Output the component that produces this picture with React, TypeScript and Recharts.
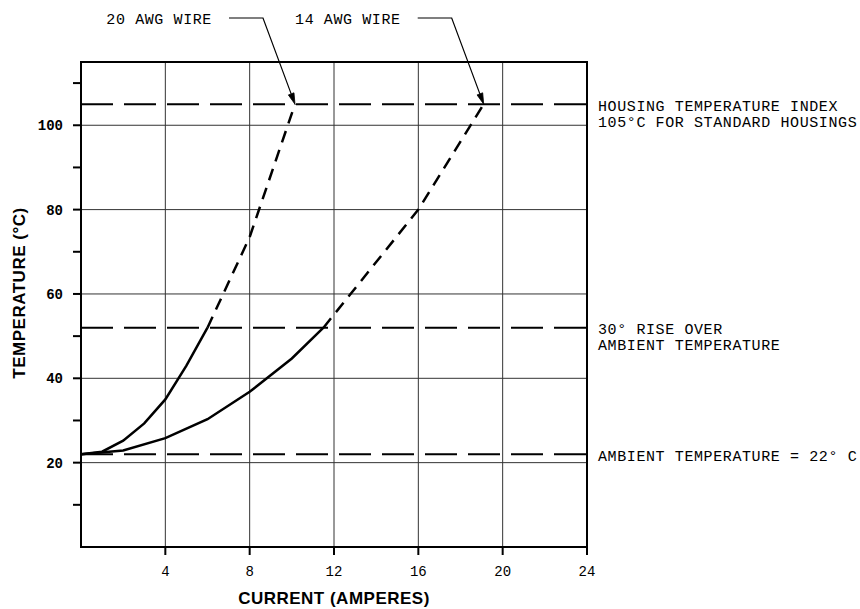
import React from 'react';
import {
  LineChart,
  Line,
  XAxis,
  YAxis,
  CartesianGrid,
  ReferenceLine,
  ReferenceArea,
  ReferenceDot,
} from 'recharts';

// ---- data ----
const xTicks = [4, 8, 12, 16, 20, 24];
const yTicks = [10, 20, 30, 40, 50, 60, 70, 80, 90, 100, 110];
const yLabelled = [20, 40, 60, 80, 100];
const gridX = [4, 8, 12, 16, 20];
const gridY = [20, 40, 60, 80, 100];

const awg20Solid = [
  { x: 0, y: 22 },
  { x: 1, y: 22.6 },
  { x: 2, y: 25.2 },
  { x: 3, y: 29.3 },
  { x: 4, y: 35 },
  { x: 5, y: 43 },
  { x: 6, y: 52 },
];
const awg20Dashed = [
  { x: 6, y: 52 },
  { x: 8, y: 73.5 },
  { x: 10.15, y: 105 },
];
const awg14Solid = [
  { x: 0, y: 22 },
  { x: 2, y: 22.9 },
  { x: 4, y: 25.8 },
  { x: 6, y: 30.3 },
  { x: 8, y: 36.8 },
  { x: 10, y: 44.7 },
  { x: 11.5, y: 52 },
];
const awg14Dashed = [
  { x: 11.5, y: 52 },
  { x: 16, y: 80 },
  { x: 19.1, y: 105 },
];

const limitValues = [105, 52, 22];
const limitTexts = [
  ['HOUSING TEMPERATURE INDEX', '105\u00B0C FOR STANDARD HOUSINGS'],
  ['30\u00B0 RISE OVER', 'AMBIENT TEMPERATURE'],
  ['AMBIENT TEMPERATURE = 22\u00B0 C'],
];

const wireNames = ['20 AWG WIRE', '14 AWG WIRE'];
const wireTips = [awg20Dashed[awg20Dashed.length - 1], awg14Dashed[awg14Dashed.length - 1]];

const X_DOMAIN = [0, 24];
const Y_DOMAIN = [0, 115];

const MONO = '"Liberation Mono", "DejaVu Sans Mono", monospace';
const SANS = '"Liberation Sans", Arial, sans-serif';

const YTick = (props: any) => {
  const { x, y, payload } = props;
  if (!yLabelled.includes(payload.value)) return <g />;
  return (
    <text
      x={x - 1}
      y={y}
      dy={5}
      textAnchor="end"
      fontFamily={MONO}
      fontWeight="bold"
      fontSize={14}
      fill="#000"
    >
      {payload.value}
    </text>
  );
};

const XTick = (props: any) => {
  const { x, y, payload } = props;
  return (
    <text x={x} y={y} dy={17} textAnchor="middle" fontFamily={MONO} fontSize={14} fill="#000">
      {payload.value}
    </text>
  );
};

const limitLabel = (lines: string[]) => (props: any) => {
  const vb = props.viewBox || {};
  const right = (vb.x || 0) + (vb.width || 0);
  const y = vb.y || 0;
  return (
    <g>
      {lines.map((t, i) => (
        <text
          key={i}
          x={right + 11}
          y={y + 6.5 + i * 16}
          fontFamily={MONO}
          fontSize={15}
          letterSpacing={0.6}
          fill="#000"
        >
          {t}
        </text>
      ))}
    </g>
  );
};

const leaderShape = (name: string) => (props: any) => {
  const { cx, cy } = props;
  const topY = 18;
  const corner = { x: cx - 32, y: topY };
  const start = { x: cx - 66, y: topY };
  const dx = cx - corner.x;
  const dy = cy - corner.y;
  const len = Math.sqrt(dx * dx + dy * dy);
  const ux = dx / len;
  const uy = dy / len;
  const ah = 11;
  const aw = 3;
  const bx = cx - ux * ah;
  const by = cy - uy * ah;
  const p1 = `${cx},${cy}`;
  const p2 = `${bx - uy * aw},${by + ux * aw}`;
  const p3 = `${bx + uy * aw},${by - ux * aw}`;
  return (
    <g>
      <polyline
        points={`${start.x},${start.y} ${corner.x},${corner.y} ${bx},${by}`}
        fill="none"
        stroke="#000"
        strokeWidth={1.2}
      />
      <polygon points={`${p1} ${p2} ${p3}`} fill="#000" stroke="#000" strokeWidth={0.8} />
      <text
        x={start.x - 17}
        y={topY + 6}
        textAnchor="end"
        fontFamily={MONO}
        fontSize={15}
        letterSpacing={0.6}
        fill="#000"
      >
        {name}
      </text>
    </g>
  );
};

const XTitle = (props: any) => {
  const vb = props.viewBox || {};
  return (
    <text
      x={vb.x + vb.width / 2}
      y={vb.y + 57}
      textAnchor="middle"
      fontFamily={SANS}
      fontWeight="bold"
      fontSize={17}
      letterSpacing={0.5}
      fill="#000"
    >
      CURRENT (AMPERES)
    </text>
  );
};

const YTitle = () => (
  <text
    x={0}
    y={0}
    transform="translate(25,293) rotate(-90)"
    textAnchor="middle"
    fontFamily={SANS}
    fontWeight="bold"
    fontSize={17}
    letterSpacing={0.5}
    fill="#000"
  >
    TEMPERATURE (°C)
  </text>
);

export default function App() {
  return (
    <div style={{ position: 'absolute', left: 0, top: 0, background: '#fff' }}>
      <LineChart
        width={860}
        height={609}
        margin={{ top: 62, right: 273, bottom: 22, left: 0 }}
      >
        <CartesianGrid
          horizontalValues={gridY}
          verticalValues={gridX}
          stroke="#333"
          strokeWidth={1}
        />
        <XAxis
          type="number"
          dataKey="x"
          domain={X_DOMAIN}
          ticks={xTicks}
          axisLine={false}
          tickLine={{ stroke: '#000', strokeWidth: 2 }}
          tickSize={8}
          tickMargin={4}
          tick={<XTick />}
          height={40}
          label={<XTitle />}
          allowDataOverflow
        />
        <YAxis
          type="number"
          dataKey="y"
          domain={Y_DOMAIN}
          ticks={yTicks}
          axisLine={false}
          tickLine={{ stroke: '#000', strokeWidth: 2 }}
          tickSize={8}
          tickMargin={9}
          tick={<YTick />}
          width={81}
          label={<YTitle />}
          allowDataOverflow
          interval={0}
        />
        {limitValues.map((v, i) => (
          <ReferenceLine
            key={v}
            y={v}
            stroke="#000"
            strokeWidth={2}
            strokeDasharray="32 11"
            label={limitLabel(limitTexts[i])}
            ifOverflow="visible"
          />
        ))}
        <ReferenceArea
          x1={X_DOMAIN[0]}
          x2={X_DOMAIN[1]}
          y1={Y_DOMAIN[0]}
          y2={Y_DOMAIN[1]}
          fill="none"
          fillOpacity={0}
          stroke="#000"
          strokeWidth={2}
          ifOverflow="visible"
        />
        <Line
          data={awg20Solid}
          dataKey="y"
          type="linear"
          stroke="#000"
          strokeWidth={2.5}
          dot={false}
          isAnimationActive={false}
        />
        <Line
          data={awg20Dashed}
          dataKey="y"
          type="linear"
          stroke="#000"
          strokeWidth={2.5}
          strokeDasharray="12 8"
          dot={false}
          isAnimationActive={false}
        />
        <Line
          data={awg14Solid}
          dataKey="y"
          type="linear"
          stroke="#000"
          strokeWidth={2.5}
          dot={false}
          isAnimationActive={false}
        />
        <Line
          data={awg14Dashed}
          dataKey="y"
          type="linear"
          stroke="#000"
          strokeWidth={2.5}
          strokeDasharray="12 8"
          dot={false}
          isAnimationActive={false}
        />
        {wireTips.map((p, i) => (
          <ReferenceDot
            key={wireNames[i]}
            x={p.x}
            y={p.y}
            r={0}
            ifOverflow="visible"
            shape={leaderShape(wireNames[i])}
          />
        ))}
      </LineChart>
    </div>
  );
}
